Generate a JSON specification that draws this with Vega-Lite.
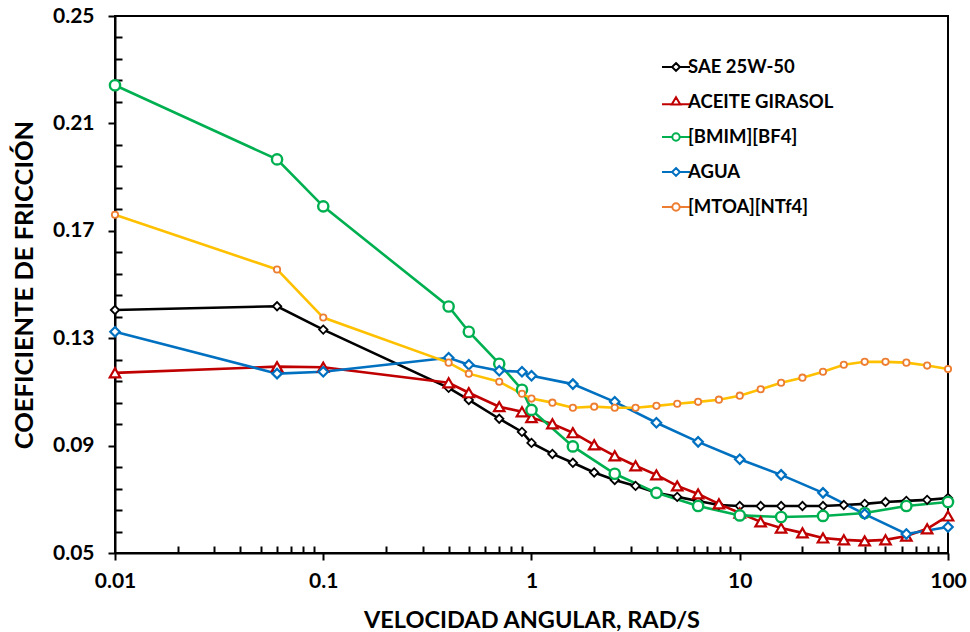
{
  "$schema": "https://vega.github.io/schema/vega-lite/v6.json",
  "width": 833,
  "height": 537,
  "autosize": {"type": "none"},
  "padding": {"left": 115, "top": 16, "right": 22, "bottom": 79},
  "background": "white",
  "config": {
    "view": {"stroke": "black", "strokeWidth": 2},
    "font": "Lato",
    "axis": {"grid": false, "domainColor": "black", "domainWidth": 2, "tickColor": "black", "tickWidth": 2, "labelFont": "Lato", "labelFontWeight": "bold", "labelColor": "black", "titleFont": "Lato", "titleFontWeight": "bold", "titleColor": "black"}
  },
  "data": {"values": [
    {"s": "SAE 25W-50", "x": 0.01, "y": 0.1405},
    {"s": "SAE 25W-50", "x": 0.06, "y": 0.1419},
    {"s": "SAE 25W-50", "x": 0.1, "y": 0.1332},
    {"s": "SAE 25W-50", "x": 0.4, "y": 0.1115},
    {"s": "SAE 25W-50", "x": 0.5, "y": 0.107},
    {"s": "SAE 25W-50", "x": 0.7, "y": 0.1},
    {"s": "SAE 25W-50", "x": 0.9, "y": 0.0951},
    {"s": "SAE 25W-50", "x": 1.0, "y": 0.091},
    {"s": "SAE 25W-50", "x": 1.26, "y": 0.0869},
    {"s": "SAE 25W-50", "x": 1.58, "y": 0.0836},
    {"s": "SAE 25W-50", "x": 2.0, "y": 0.08},
    {"s": "SAE 25W-50", "x": 2.51, "y": 0.0772},
    {"s": "SAE 25W-50", "x": 3.16, "y": 0.075},
    {"s": "SAE 25W-50", "x": 3.98, "y": 0.0724},
    {"s": "SAE 25W-50", "x": 5.01, "y": 0.0709},
    {"s": "SAE 25W-50", "x": 6.31, "y": 0.0694},
    {"s": "SAE 25W-50", "x": 7.94, "y": 0.0679},
    {"s": "SAE 25W-50", "x": 10, "y": 0.0675},
    {"s": "SAE 25W-50", "x": 12.6, "y": 0.0675},
    {"s": "SAE 25W-50", "x": 15.8, "y": 0.0675},
    {"s": "SAE 25W-50", "x": 20, "y": 0.0675},
    {"s": "SAE 25W-50", "x": 25.1, "y": 0.0675},
    {"s": "SAE 25W-50", "x": 31.6, "y": 0.0679},
    {"s": "SAE 25W-50", "x": 39.8, "y": 0.0683},
    {"s": "SAE 25W-50", "x": 50.1, "y": 0.069},
    {"s": "SAE 25W-50", "x": 63.1, "y": 0.0694},
    {"s": "SAE 25W-50", "x": 79.4, "y": 0.0698},
    {"s": "SAE 25W-50", "x": 100, "y": 0.0705},
    {"s": "ACEITE GIRASOL", "x": 0.01, "y": 0.1171},
    {"s": "ACEITE GIRASOL", "x": 0.06, "y": 0.1194},
    {"s": "ACEITE GIRASOL", "x": 0.1, "y": 0.1192},
    {"s": "ACEITE GIRASOL", "x": 0.4, "y": 0.1134},
    {"s": "ACEITE GIRASOL", "x": 0.5, "y": 0.1097},
    {"s": "ACEITE GIRASOL", "x": 0.7, "y": 0.1045},
    {"s": "ACEITE GIRASOL", "x": 0.9, "y": 0.1026},
    {"s": "ACEITE GIRASOL", "x": 1.0, "y": 0.1004},
    {"s": "ACEITE GIRASOL", "x": 1.26, "y": 0.0981},
    {"s": "ACEITE GIRASOL", "x": 1.58, "y": 0.0948},
    {"s": "ACEITE GIRASOL", "x": 2.0, "y": 0.0903},
    {"s": "ACEITE GIRASOL", "x": 2.51, "y": 0.0862},
    {"s": "ACEITE GIRASOL", "x": 3.16, "y": 0.0825},
    {"s": "ACEITE GIRASOL", "x": 3.98, "y": 0.0791},
    {"s": "ACEITE GIRASOL", "x": 5.01, "y": 0.075},
    {"s": "ACEITE GIRASOL", "x": 6.31, "y": 0.072},
    {"s": "ACEITE GIRASOL", "x": 7.94, "y": 0.0683},
    {"s": "ACEITE GIRASOL", "x": 10, "y": 0.0649},
    {"s": "ACEITE GIRASOL", "x": 12.6, "y": 0.0616},
    {"s": "ACEITE GIRASOL", "x": 15.8, "y": 0.0593},
    {"s": "ACEITE GIRASOL", "x": 20, "y": 0.0575},
    {"s": "ACEITE GIRASOL", "x": 25.1, "y": 0.0556},
    {"s": "ACEITE GIRASOL", "x": 31.6, "y": 0.0549},
    {"s": "ACEITE GIRASOL", "x": 39.8, "y": 0.0545},
    {"s": "ACEITE GIRASOL", "x": 50.1, "y": 0.0549},
    {"s": "ACEITE GIRASOL", "x": 63.1, "y": 0.0563},
    {"s": "ACEITE GIRASOL", "x": 79.4, "y": 0.059},
    {"s": "ACEITE GIRASOL", "x": 100, "y": 0.0638},
    {"s": "[BMIM][BF4]", "x": 0.01, "y": 0.2242},
    {"s": "[BMIM][BF4]", "x": 0.06, "y": 0.1966},
    {"s": "[BMIM][BF4]", "x": 0.1, "y": 0.1791},
    {"s": "[BMIM][BF4]", "x": 0.4, "y": 0.1418},
    {"s": "[BMIM][BF4]", "x": 0.5, "y": 0.1324},
    {"s": "[BMIM][BF4]", "x": 0.7, "y": 0.1205},
    {"s": "[BMIM][BF4]", "x": 0.9, "y": 0.1108},
    {"s": "[BMIM][BF4]", "x": 1.0, "y": 0.1033},
    {"s": "[BMIM][BF4]", "x": 1.58, "y": 0.0897},
    {"s": "[BMIM][BF4]", "x": 2.51, "y": 0.0795},
    {"s": "[BMIM][BF4]", "x": 3.98, "y": 0.0724},
    {"s": "[BMIM][BF4]", "x": 6.31, "y": 0.0675},
    {"s": "[BMIM][BF4]", "x": 10, "y": 0.064},
    {"s": "[BMIM][BF4]", "x": 15.8, "y": 0.0634},
    {"s": "[BMIM][BF4]", "x": 25.1, "y": 0.0638},
    {"s": "[BMIM][BF4]", "x": 39.8, "y": 0.0649},
    {"s": "[BMIM][BF4]", "x": 63.1, "y": 0.0675},
    {"s": "[BMIM][BF4]", "x": 100, "y": 0.069},
    {"s": "AGUA", "x": 0.01, "y": 0.1324},
    {"s": "AGUA", "x": 0.06, "y": 0.1168},
    {"s": "AGUA", "x": 0.1, "y": 0.1175},
    {"s": "AGUA", "x": 0.4, "y": 0.1227},
    {"s": "AGUA", "x": 0.5, "y": 0.1201},
    {"s": "AGUA", "x": 0.7, "y": 0.1179},
    {"s": "AGUA", "x": 0.9, "y": 0.1175},
    {"s": "AGUA", "x": 1.0, "y": 0.116},
    {"s": "AGUA", "x": 1.58, "y": 0.1129},
    {"s": "AGUA", "x": 2.51, "y": 0.1063},
    {"s": "AGUA", "x": 3.98, "y": 0.0985},
    {"s": "AGUA", "x": 6.31, "y": 0.0914},
    {"s": "AGUA", "x": 10, "y": 0.0849},
    {"s": "AGUA", "x": 15.8, "y": 0.0791},
    {"s": "AGUA", "x": 25.1, "y": 0.0724},
    {"s": "AGUA", "x": 39.8, "y": 0.0645},
    {"s": "AGUA", "x": 63.1, "y": 0.0571},
    {"s": "AGUA", "x": 100, "y": 0.0597},
    {"s": "[MTOA][NTf4]", "x": 0.01, "y": 0.176},
    {"s": "[MTOA][NTf4]", "x": 0.06, "y": 0.1556},
    {"s": "[MTOA][NTf4]", "x": 0.1, "y": 0.1377},
    {"s": "[MTOA][NTf4]", "x": 0.4, "y": 0.1209},
    {"s": "[MTOA][NTf4]", "x": 0.5, "y": 0.1168},
    {"s": "[MTOA][NTf4]", "x": 0.7, "y": 0.1138},
    {"s": "[MTOA][NTf4]", "x": 0.9, "y": 0.1093},
    {"s": "[MTOA][NTf4]", "x": 1.0, "y": 0.1075},
    {"s": "[MTOA][NTf4]", "x": 1.26, "y": 0.106},
    {"s": "[MTOA][NTf4]", "x": 1.58, "y": 0.1041},
    {"s": "[MTOA][NTf4]", "x": 2.0, "y": 0.1045},
    {"s": "[MTOA][NTf4]", "x": 2.51, "y": 0.1041},
    {"s": "[MTOA][NTf4]", "x": 3.16, "y": 0.1041},
    {"s": "[MTOA][NTf4]", "x": 3.98, "y": 0.1048},
    {"s": "[MTOA][NTf4]", "x": 5.01, "y": 0.1056},
    {"s": "[MTOA][NTf4]", "x": 6.31, "y": 0.1063},
    {"s": "[MTOA][NTf4]", "x": 7.94, "y": 0.1071},
    {"s": "[MTOA][NTf4]", "x": 10, "y": 0.1086},
    {"s": "[MTOA][NTf4]", "x": 12.6, "y": 0.111},
    {"s": "[MTOA][NTf4]", "x": 15.8, "y": 0.1134},
    {"s": "[MTOA][NTf4]", "x": 20, "y": 0.1153},
    {"s": "[MTOA][NTf4]", "x": 25.1, "y": 0.1175},
    {"s": "[MTOA][NTf4]", "x": 31.6, "y": 0.1201},
    {"s": "[MTOA][NTf4]", "x": 39.8, "y": 0.1212},
    {"s": "[MTOA][NTf4]", "x": 50.1, "y": 0.1212},
    {"s": "[MTOA][NTf4]", "x": 63.1, "y": 0.1209},
    {"s": "[MTOA][NTf4]", "x": 79.4, "y": 0.1198},
    {"s": "[MTOA][NTf4]", "x": 100, "y": 0.1185}
  ]},
  "encoding": {
    "x": {
      "field": "x", "type": "quantitative",
      "scale": {"type": "log", "domain": [0.01, 100], "nice": false},
      "axis": {
        "title": "VELOCIDAD ANGULAR, RAD/S",
        "titleFontSize": 23.5, "titlePadding": 17,
        "labelFontSize": 21, "labelPadding": 10,
        "values": [0.01,0.02,0.03,0.04,0.05,0.06,0.07,0.08,0.09,0.1,0.2,0.3,0.4,0.5,0.6,0.7,0.8,0.9,1,2,3,4,5,6,7,8,9,10,20,30,40,50,60,70,80,90,100],
        "labelExpr": "abs(log(datum.value)/LN10 - round(log(datum.value)/LN10)) < 0.000001 ? format(datum.value, '~g') : ''",
        "tickSize": {"condition": {"test": "abs(log(datum.value)/LN10 - round(log(datum.value)/LN10)) < 0.000001", "value": 7}, "value": -7},
        "labelFlush": false, "labelOverlap": false
      }
    },
    "y": {
      "field": "y", "type": "quantitative",
      "scale": {"domain": [0.05, 0.25], "nice": false, "zero": false},
      "axis": {
        "title": "COEFICIENTE DE FRICCIÓN",
        "titleFontSize": 25.5, "titlePadding": 15,
        "labelFontSize": 21, "labelPadding": 14,
        "values": [0.05,0.058,0.066,0.074,0.082,0.09,0.098,0.106,0.114,0.122,0.13,0.138,0.146,0.154,0.162,0.17,0.178,0.186,0.194,0.202,0.21,0.218,0.226,0.234,0.242,0.25],
        "labelExpr": "round((datum.value-0.05)*1000) % 40 == 0 ? format(datum.value, '.2f') : ''",
        "tickSize": {"condition": {"test": "round((datum.value-0.05)*1000) % 40 == 0", "value": 7}, "value": -7},
        "labelOverlap": false, "labelFlush": false
      }
    }
  },
  "layer": [
    {
      "mark": {"type": "line", "strokeWidth": 2.6},
      "encoding": {
        "stroke": {
          "field": "s", "type": "nominal",
          "scale": {"domain": ["[MTOA][NTf4]", "AGUA", "[BMIM][BF4]", "ACEITE GIRASOL", "SAE 25W-50"], "range": ["#FFC000", "#0070C0", "#00B050", "#C00000", "#000000"]},
          "legend": null
        }
      }
    },
    {
      "transform": [{"filter": "datum.s === 'SAE 25W-50'"}],
      "mark": {"type": "point", "shape": "diamond", "size": 70, "filled": false, "fill": "white", "fillOpacity": 1, "strokeWidth": 1.8, "opacity": 1},
      "encoding": {"color": {"field": "s", "type": "nominal"}}
    },
    {
      "transform": [{"filter": "datum.s === 'ACEITE GIRASOL'"}],
      "mark": {"type": "point", "shape": "triangle-up", "size": 110, "filled": false, "fill": "white", "fillOpacity": 1, "strokeWidth": 2.2, "opacity": 1},
      "encoding": {"color": {"field": "s", "type": "nominal"}}
    },
    {
      "transform": [{"filter": "datum.s === '[BMIM][BF4]'"}],
      "mark": {"type": "point", "shape": "circle", "size": 105, "filled": false, "fill": "white", "fillOpacity": 1, "strokeWidth": 2.4, "opacity": 1},
      "encoding": {"color": {"field": "s", "type": "nominal"}}
    },
    {
      "transform": [{"filter": "datum.s === 'AGUA'"}],
      "mark": {"type": "point", "shape": "diamond", "size": 90, "filled": false, "fill": "white", "fillOpacity": 1, "strokeWidth": 2.2, "opacity": 1},
      "encoding": {"color": {"field": "s", "type": "nominal"}}
    },
    {
      "transform": [{"filter": "datum.s === '[MTOA][NTf4]'"}],
      "mark": {"type": "point", "shape": "circle", "size": 40, "filled": false, "fill": "white", "fillOpacity": 1, "strokeWidth": 1.8, "opacity": 1},
      "encoding": {"color": {"field": "s", "type": "nominal"}}
    },
    {
      "mark": {"type": "point", "filled": false, "opacity": 0, "size": 306},
      "encoding": {
        "color": {
          "field": "s", "type": "nominal",
          "scale": {"domain": ["SAE 25W-50", "ACEITE GIRASOL", "[BMIM][BF4]", "AGUA", "[MTOA][NTf4]"], "range": ["#000000", "#C00000", "#00B050", "#0070C0", "#ED7D31"]},
          "legend": {
            "title": null, "orient": "none", "legendX": 551, "legendY": 41,
            "labelFont": "Lato", "labelFontWeight": "bold", "labelFontSize": 18.5, "labelColor": "black",
            "symbolSize": 306, "symbolStrokeWidth": 2, "symbolOpacity": 1, "symbolFillColor": "white", "rowPadding": 15, "labelOffset": 2
          }
        },
        "shape": {
          "field": "s", "type": "nominal",
          "scale": {"domain": ["SAE 25W-50", "ACEITE GIRASOL", "[BMIM][BF4]", "AGUA", "[MTOA][NTf4]"], "range": [
            "M-1.6,0H-0.45 M0.45,0H1.6 M0,-0.45L0.45,0L0,0.45L-0.45,0Z",
            "M-1.6,0.25H-0.42 M0.42,0.25H1.6 M0,-0.55L0.5,0.3L-0.5,0.3Z",
            "M-1.6,0H-0.42 M0.42,0H1.6 M0.42,0A0.42,0.42 0 1,1 -0.42,0A0.42,0.42 0 1,1 0.42,0Z",
            "M-1.6,0H-0.45 M0.45,0H1.6 M0,-0.45L0.45,0L0,0.45L-0.45,0Z",
            "M-1.6,0H-0.42 M0.42,0H1.6 M0.42,0A0.42,0.42 0 1,1 -0.42,0A0.42,0.42 0 1,1 0.42,0Z"
          ]},
          "legend": {
            "title": null, "orient": "none", "legendX": 551, "legendY": 41,
            "labelFont": "Lato", "labelFontWeight": "bold", "labelFontSize": 18.5, "labelColor": "black",
            "symbolSize": 306, "symbolStrokeWidth": 2, "symbolOpacity": 1, "symbolFillColor": "white", "rowPadding": 15, "labelOffset": 2
          }
        }
      }
    }
  ]
}
